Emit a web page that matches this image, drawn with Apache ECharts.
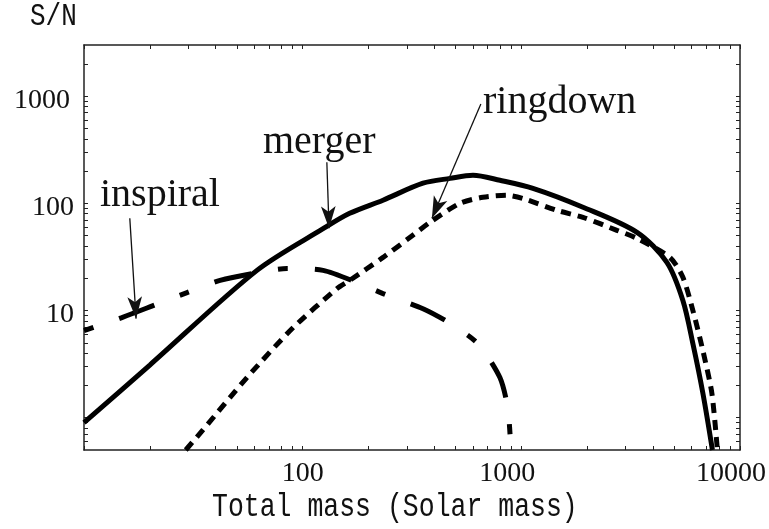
<!DOCTYPE html>
<html>
<head>
<meta charset="utf-8">
<script src="https://cdn.jsdelivr.net/npm/echarts@6/dist/echarts.min.js"></script>
<style>
html,body{margin:0;padding:0;background:#fff;}
#chart{width:769px;height:529px;}
</style>
</head>
<body>
<div id="chart"></div>
<script>
// ---- data ----
const mergerMass = [10, 20, 61.8, 124, 164, 233, 355, 472, 601, 798, 1130, 1914, 3380, 4630, 5480, 6090, 6770, 7480];
const mergerSN   = [0.90, 3.1, 23.7, 58, 80.7, 107, 154, 171, 183, 164, 138, 92, 53.6, 28.1, 12.4, 4.9, 1.68, 0.5];

const inspiralMass = [10, 14.9, 20.7, 29.6, 41.9, 59.3, 84.8, 124, 177, 233, 355, 472, 634, 798, 868, 896];
const inspiralSN   = [6.5, 8.6, 11.1, 14.7, 19.1, 22.2, 24.7, 23.7, 18.3, 14.4, 10.4, 7.6, 4.9, 2.37, 1.21, 0.5];

const ringdownMass = [29.2, 35, 55.6, 90.3, 144, 164, 233, 310, 382, 524, 667, 859, 1017, 1454, 1914, 2736, 3380, 4780, 5480, 6090, 6770, 7440, 7880];
const ringdownSN   = [0.5, 0.77, 2.37, 6.9, 16.1, 19.1, 31.3, 48.2, 66.5, 100, 114, 119, 111, 86, 74, 56, 47.1, 31.3, 20.4, 10, 4.2, 1.68, 0.5];

const xLabelValues = [100, 1000, 10000];
const yLabelValues = [10, 100, 1000];
const xMinorTicks = [10,20,30,40,50,60,70,80,90,100,200,300,400,500,600,700,800,900,1000,2000,3000,4000,5000,6000,7000,8000,9000,10000];
const yMinorTicks = [0.6,0.7,0.8,0.9,1,2,3,4,5,6,7,8,9,10,20,30,40,50,60,70,80,90,100,200,300,400,500,600,700,800,900,1000,2000];

// annotation arrows
const arrowLabels = ['inspiral', 'merger', 'ringdown'];
const arrowFrom = [[16.2, 72.5], [129, 242], [653, 843]];
const arrowTo   = [[17.3, 8.4], [132, 58.5], [390, 72.5]];

const xTitle = 'Total mass (Solar mass)';
const yTitle = 'S/N';

// ---- build ----
const pairs = (xs, ys) => xs.map((x, i) => [x, ys[i]]);
const AX = '#222';
const serif = '"Liberation Serif", "DejaVu Serif", serif';
const mono = '"Liberation Mono", "DejaVu Sans Mono", monospace';

function xAxisCfg(pos, labels) {
  return {
    type: 'log', logBase: 10, min: 10, max: 10000, position: pos,
    axisLine: { show: true, onZero: false, lineStyle: { color: AX, width: 1.5 } },
    axisTick: { show: true, inside: true, length: 4, customValues: xMinorTicks, lineStyle: { color: AX, width: 1 } },
    axisLabel: labels ? {
      show: true, customValues: xLabelValues, margin: 10,
      formatter: v => { const r = Math.round(v); return r === 1000 ? '{b|' + r + '}' : (r === 10000 ? '{c|' + r + '}' : '{a|' + r + '}'); },
      rich: {
        a: { fontFamily: serif, fontSize: 28, color: '#111' },
        b: { fontFamily: serif, fontSize: 28, color: '#111', padding: [0, 28, 0, 0] },
        c: { fontFamily: serif, fontSize: 28, color: '#111', padding: [0, 18, 0, 0] }
      }
    } : { show: false },
    splitLine: { show: false }
  };
}
function yAxisCfg(pos, labels) {
  return {
    type: 'log', logBase: 10, min: 0.5, max: 3000, position: pos,
    axisLine: { show: true, onZero: false, lineStyle: { color: AX, width: 1.5 } },
    axisTick: { show: true, inside: true, length: 4, customValues: yMinorTicks, lineStyle: { color: AX, width: 1 } },
    axisLabel: labels ? {
      show: true, customValues: yLabelValues, margin: 10,
      formatter: v => { const r = Math.round(v); return r === 1000 ? '{b|' + r + '}' : '{a|' + r + '}'; },
      rich: {
        a: { fontFamily: serif, fontSize: 28, color: '#111', padding: [8, 0, 0, 0] },
        b: { fontFamily: serif, fontSize: 28, color: '#111', padding: [8, 4, 0, 0] }
      }
    } : { show: false },
    splitLine: { show: false }
  };
}

const chart = echarts.init(document.getElementById('chart'), null, { renderer: 'canvas' });

const arrowData = arrowFrom.map((f, i) => [
  { coord: f, name: arrowLabels[i] },
  { coord: arrowTo[i] }
]);

chart.setOption({
  animation: false,
  backgroundColor: '#fff',
  grid: { left: 84, right: 29, top: 45, bottom: 79, containLabel: false },
  xAxis: [xAxisCfg('bottom', true), xAxisCfg('top', false)],
  yAxis: [yAxisCfg('left', true), yAxisCfg('right', false)],
  graphic: [
    { type: 'text', left: 30, top: 1, scaleY: 1.22, style: { text: yTitle, font: '26px ' + mono, fill: '#111' } },
    { type: 'text', left: 212, top: 491, scaleY: 1.22, style: { text: xTitle, font: '26.5px ' + mono, fill: '#111' } },
    { type: 'text', x: 100, y: 195, style: { text: arrowLabels[0], font: '40px ' + serif, fill: '#111', verticalAlign: 'middle' } },
    { type: 'text', x: 263, y: 142, style: { text: arrowLabels[1], font: '40px ' + serif, fill: '#111', verticalAlign: 'middle' } },
    { type: 'text', x: 483, y: 102, style: { text: arrowLabels[2], font: '40px ' + serif, fill: '#111', verticalAlign: 'middle' } }
  ],
  series: [
    {
      name: 'merger', type: 'line', xAxisIndex: 0, yAxisIndex: 0,
      data: pairs(mergerMass, mergerSN), showSymbol: false, smooth: 0.3,
      lineStyle: { color: '#000', width: 5, type: 'solid' }, clip: true,
      markLine: {
        silent: true, symbol: ['none', 'arrow'], symbolSize: [11, 22],
        label: { show: false },
        lineStyle: { color: '#111', width: 1.3, type: 'solid' },
        emphasis: { disabled: true },
        data: arrowData
      }
    },
    {
      name: 'inspiral', type: 'line', xAxisIndex: 0, yAxisIndex: 0,
      data: pairs(inspiralMass, inspiralSN), showSymbol: false, smooth: 0.25,
      lineStyle: { color: '#000', width: 5, type: [10, 27, 38, 27], cap: 'butt' }, clip: true
    },
    {
      name: 'ringdown', type: 'line', xAxisIndex: 0, yAxisIndex: 0,
      data: pairs(ringdownMass, ringdownSN), showSymbol: false, smooth: 0.25,
      lineStyle: { color: '#000', width: 5, type: [10, 7], cap: 'butt' }, clip: true
    }
  ]
});
</script>
</body>
</html>
